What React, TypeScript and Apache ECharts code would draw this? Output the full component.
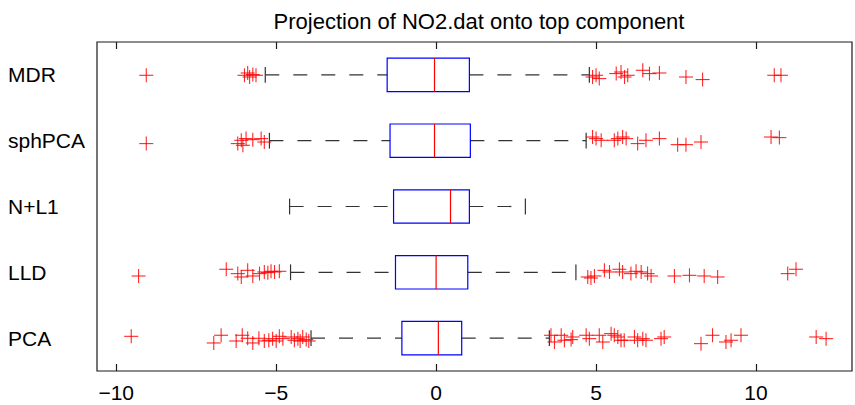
import React, { useEffect, useRef } from "react";
import * as echarts from "echarts";

const categories = ["PCA", "LLD", "N+L1", "sphPCA", "MDR"];
const xTicks = [-10, -5, 0, 5, 10];
const titleText = "Projection of NO2.dat onto top component";

// [lowerWhisker, q1, median, q3, upperWhisker]
const boxPCA = [-3.91, -1.07, 0.07, 0.8, 3.54];
const boxLLD = [-4.55, -1.27, 0.0, 0.99, 4.37];
const boxNL1 = [-4.58, -1.33, 0.45, 1.04, 2.79];
const boxSph = [-5.21, -1.44, -0.05, 1.07, 4.69];
const boxMDR = [-5.34, -1.53, -0.05, 1.04, 4.79];

// outliers: [value, row position]
const outPCA = [
  [-9.53, 1.027], [-6.95, 0.926], [-6.72, 1.043], [-6.25, 0.956], [-6.06, 1.043],
  [-5.89, 0.997], [-5.73, 0.926], [-5.54, 0.997], [-5.37, 0.956], [-5.23, 0.967],
  [-5.11, 0.992], [-5.0, 0.956], [-4.9, 1.027], [-4.79, 0.992], [-4.53, 1.017],
  [-4.43, 0.967], [-4.32, 0.992], [-4.25, 0.956], [-4.17, 1.017], [-4.06, 0.977],
  [-3.98, 0.956],
  [3.59, 1.043], [3.7, 0.941], [3.91, 1.043], [4.01, 0.967], [4.22, 0.977],
  [4.27, 1.017], [4.69, 1.043], [4.79, 0.992], [5.1, 1.043], [5.21, 0.941],
  [5.47, 1.068], [5.57, 1.043], [5.68, 1.017], [5.78, 0.967], [5.88, 0.967],
  [6.2, 1.017], [6.3, 0.967], [6.46, 0.992], [6.56, 0.967], [7.03, 0.992],
  [7.13, 1.017], [8.28, 0.916], [8.64, 1.043], [9.06, 0.941], [9.22, 0.967],
  [9.53, 1.043], [11.88, 1.017], [12.19, 0.992],
];
const outLLD = [
  [-9.3, 1.944], [-6.56, 2.046], [-6.2, 1.98], [-6.09, 1.929], [-5.89, 2.03],
  [-5.73, 1.944], [-5.52, 1.98], [-5.37, 2.005], [-5.26, 1.995], [-5.16, 2.015],
  [-5.05, 2.005], [-4.9, 2.015],
  [4.74, 1.929], [4.84, 1.913], [4.95, 1.944], [5.26, 2.03], [5.42, 2.005],
  [5.73, 2.046], [5.83, 2.005], [6.09, 1.98], [6.25, 2.015], [6.41, 2.005],
  [6.61, 1.98], [6.72, 1.944], [7.45, 1.944], [7.92, 1.954], [8.38, 1.944],
  [8.8, 1.929], [10.99, 1.98], [11.25, 2.046],
];
const outSph = [
  [-9.06, 3.956], [-6.2, 3.956], [-6.09, 4.006], [-6.04, 3.93], [-5.94, 4.032],
  [-5.73, 4.016], [-5.47, 4.032], [-5.37, 3.98],
  [4.89, 4.056], [5.0, 4.032], [5.16, 4.006], [5.57, 4.006], [5.68, 4.032],
  [5.83, 4.056], [5.94, 4.032], [6.3, 3.956], [6.56, 4.006], [6.98, 4.032],
  [7.55, 3.94], [7.81, 3.94], [8.28, 3.98], [10.47, 4.056], [10.73, 4.047],
];
const outMDR = [
  [-9.06, 4.994], [-5.99, 4.994], [-5.89, 5.029], [-5.83, 4.968], [-5.73, 5.005],
  [-5.63, 4.994],
  [4.89, 4.968], [5.0, 4.994], [5.1, 4.944], [5.63, 5.02], [5.78, 5.044],
  [5.89, 4.968], [5.99, 4.994], [6.46, 5.07], [6.67, 5.02], [6.98, 5.029],
  [7.81, 4.968], [8.33, 4.929], [10.57, 4.994], [10.78, 4.994],
];

const FONT = "'Liberation Sans', Arial, Helvetica, sans-serif";

export default function App() {
  const ref = useRef<HTMLDivElement>(null);
  useEffect(() => {
    if (!ref.current) return;
    const chart = echarts.init(ref.current, undefined, { renderer: "svg" });
    const boxData = [boxPCA, boxLLD, boxNL1, boxSph, boxMDR].map((b, i) => [i + 1, ...b]);
    const outData = [...outPCA, ...outLLD, ...outSph, ...outMDR];
    const fmt = (v: number) => (v < 0 ? "\u2212" + Math.abs(v) : String(v));
    chart.setOption({
      animation: false,
      backgroundColor: "#fff",
      title: {
        text: titleText,
        left: 474,
        textAlign: "center",
        top: 5,
        textStyle: { fontFamily: FONT, fontSize: 22, fontWeight: "normal", color: "#000" },
      },
      grid: {
        left: 97,
        right: 3,
        top: 42,
        bottom: 34,
        show: true,
        borderColor: "#1a1a1a",
        borderWidth: 1.2,
        backgroundColor: "transparent",
      },
      xAxis: [
        {
          type: "value",
          min: -10.6,
          max: 13,
          axisLine: { show: false },
          splitLine: { show: false },
          axisTick: { show: true, inside: true, length: 7, customValues: xTicks, lineStyle: { color: "#1a1a1a", width: 1.2 } },
          axisLabel: { customValues: xTicks, formatter: fmt, fontFamily: FONT, fontSize: 21, color: "#000", margin: 11 },
        },
        {
          type: "value",
          position: "top",
          min: -10.6,
          max: 13,
          axisLine: { show: false },
          splitLine: { show: false },
          axisTick: { show: true, inside: true, length: 7, customValues: xTicks, lineStyle: { color: "#1a1a1a", width: 1.2 } },
          axisLabel: { show: false },
        },
      ],
      yAxis: {
        type: "value",
        min: 0.5,
        max: 5.5,
        axisLine: { show: false },
        splitLine: { show: false },
        axisTick: { show: false },
        axisLabel: {
          customValues: [1, 2, 3, 4, 5],
          formatter: (v: number) => categories[Math.round(v) - 1],
          align: "left",
          margin: 89,
          fontFamily: FONT,
          fontSize: 21,
          color: "#000",
        },
      },
      series: [
        {
          type: "custom",
          data: boxData,
          encode: { x: [1, 2, 3, 4, 5], y: 0 },
          renderItem: (_p: any, api: any) => {
            const cy = api.value(0);
            const pts = [1, 2, 3, 4, 5].map((i) => api.coord([api.value(i), cy]));
            const band = api.size([0, 1])[1];
            const y = pts[0][1];
            const hb = band * 0.254;
            const hc = band * 0.12;
            const [pLo, pQ1, pMed, pQ3, pHi] = pts.map((p: number[]) => p[0]);
            const ws = { stroke: "#333", lineWidth: 1.2, lineDash: [14, 14] };
            const cs = { stroke: "#333", lineWidth: 1.2 };
            return {
              type: "group",
              children: [
                { type: "line", shape: { x1: pLo, y1: y, x2: pQ1, y2: y }, style: ws },
                { type: "line", shape: { x1: pQ3, y1: y, x2: pHi, y2: y }, style: ws },
                { type: "line", shape: { x1: pLo, y1: y - hc, x2: pLo, y2: y + hc }, style: cs },
                { type: "line", shape: { x1: pHi, y1: y - hc, x2: pHi, y2: y + hc }, style: cs },
                {
                  type: "rect",
                  shape: { x: pQ1, y: y - hb, width: pQ3 - pQ1, height: 2 * hb },
                  style: { fill: "none", stroke: "#0000ff", lineWidth: 1.2 },
                },
                { type: "line", shape: { x1: pMed, y1: y - hb, x2: pMed, y2: y + hb }, style: { stroke: "#ff0000", lineWidth: 1.2 } },
              ],
            };
          },
        },
        {
          type: "custom",
          data: outData,
          encode: { x: 0, y: 1 },
          renderItem: (_p: any, api: any) => {
            const p = api.coord([api.value(0), api.value(1)]);
            const s = 7;
            const st = { stroke: "#ff0000", lineWidth: 1.1, opacity: 0.85 };
            return {
              type: "group",
              children: [
                { type: "line", shape: { x1: p[0] - s, y1: p[1], x2: p[0] + s, y2: p[1] }, style: st },
                { type: "line", shape: { x1: p[0], y1: p[1] - s, x2: p[0], y2: p[1] + s }, style: st },
              ],
            };
          },
        },
      ],
    });
    return () => chart.dispose();
  }, []);
  return <div ref={ref} style={{ position: "fixed", left: 0, top: 0, width: 855, height: 405 }} />;
}
